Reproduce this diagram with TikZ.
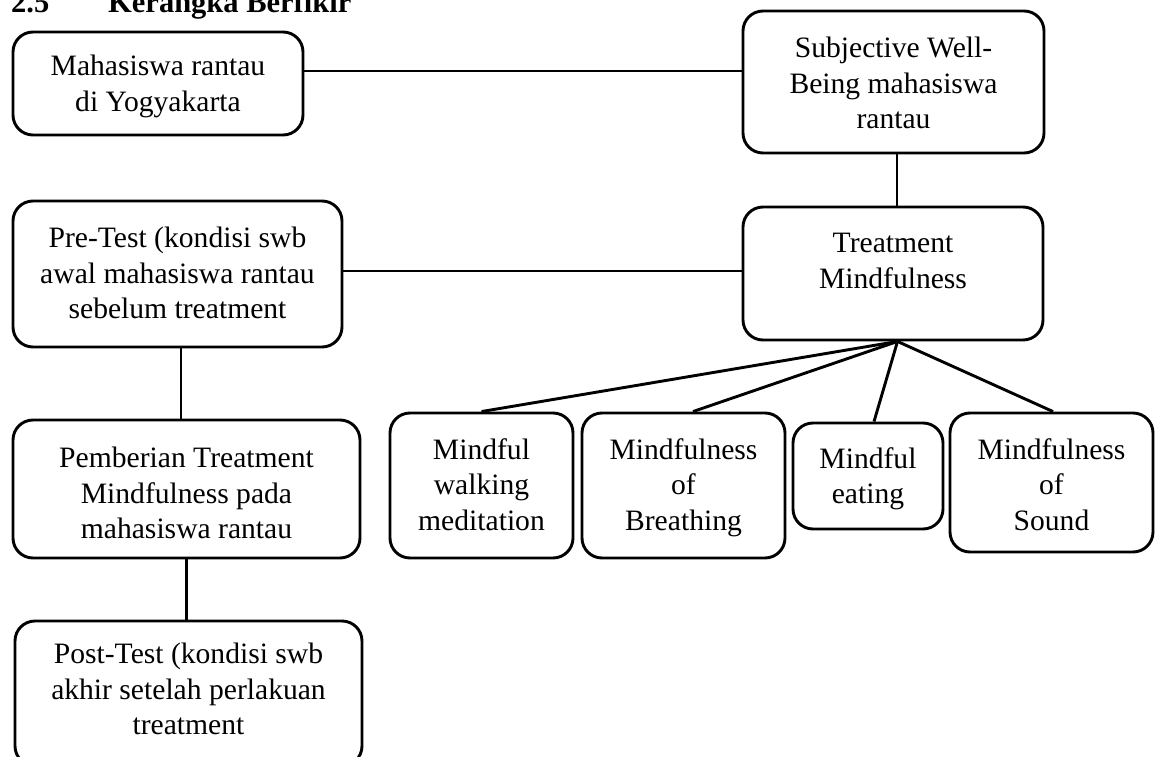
\documentclass[tikz,border=0pt]{standalone}
\usepackage{fontspec}
\setmainfont{Liberation Serif}
\begin{document}
\begin{tikzpicture}[x=1pt,y=-1pt,
  box/.style={draw, line width=2.9pt, rounded corners=20pt, inner sep=0pt},
  txt/.style={anchor=north, align=center, inner sep=0pt, font=\fontsize{29.6}{35.5}\selectfont},
  head/.style={anchor=base west, inner sep=0pt, font=\fontsize{30.5}{34}\selectfont\bfseries},
  link/.style={line width=2.9pt}]
\useasboundingbox (0,0) rectangle (1156,757);
% heading
\node[head] (hnum) at (11,13) {2.5};
\node[head] (htitle) at (108,13) {Kerangka Berfikir};
% boxes
\node[box, minimum width=290pt, minimum height=103pt] (mah) at (158,83.5) {};
\node[txt] (maht) at (158,55) {Mahasiswa rantau\\di Yogyakarta};
\node[box, minimum width=301pt, minimum height=142pt] (swb) at (893.5,82) {};
\node[txt] (swbt) at (893.5,37) {Subjective Well-\\Being mahasiswa\\rantau};
\node[box, minimum width=300pt, minimum height=133pt] (treat) at (893,273.5) {};
\node[txt] (treatt) at (893,233) {Treatment\\Mindfulness};
\node[box, minimum width=329pt, minimum height=146pt] (pre) at (177.5,274) {};
\node[txt] (pret) at (177.5,227) {Pre-Test (kondisi swb\\awal mahasiswa rantau\\sebelum treatment};
\node[box, minimum width=347pt, minimum height=138pt] (pemb) at (186.5,489) {};
\node[txt] (pembt) at (186.5,447) {Pemberian Treatment\\Mindfulness pada\\mahasiswa rantau};
\node[box, minimum width=347pt, minimum height=145pt] (post) at (188.5,693.5) {};
\node[txt] (postt) at (188.5,643) {Post-Test (kondisi swb\\akhir setelah perlakuan\\treatment};
\node[box, minimum width=183pt, minimum height=145pt] (walk) at (481.5,485.5) {};
\node[txt] (walkt) at (481.5,438) {Mindful\\walking\\meditation};
\node[box, minimum width=203pt, minimum height=145pt] (breath) at (683.5,485.5) {};
\node[txt] (breatht) at (683.5,438) {Mindfulness\\of\\Breathing};
\node[box, minimum width=150pt, minimum height=106pt] (eat) at (868,476) {};
\node[txt] (eatt) at (868,447) {Mindful\\eating};
\node[box, minimum width=203pt, minimum height=139pt] (sound) at (1051.5,482.5) {};
\node[txt] (soundt) at (1051.5,438) {Mindfulness\\of\\Sound};
% connectors
\draw[link] ([yshift=12.5pt]mah.east) coordinate (m1) -- (m1 -| swb.west);
\draw[link] ([xshift=3.5pt]swb.south) coordinate (s1) -- (s1 |- treat.north);
\draw[link] ([yshift=3pt]pre.east) coordinate (p1) -- (p1 -| treat.west);
\draw[link] ([xshift=3.5pt]pre.south) coordinate (p2) -- (p2 |- pemb.north);
\draw[link] (pemb.south) -- (pemb.south |- post.north);
\coordinate (fan) at ([xshift=4.5pt]treat.south);
\draw[link] (fan) -- (walk.north);
\draw[link] (fan) -- ([xshift=9.5pt]breath.north);
\draw[link] (fan) -- ([xshift=6pt]eat.north);
\draw[link] (fan) -- ([xshift=1.5pt]sound.north);
\end{tikzpicture}
\end{document}
